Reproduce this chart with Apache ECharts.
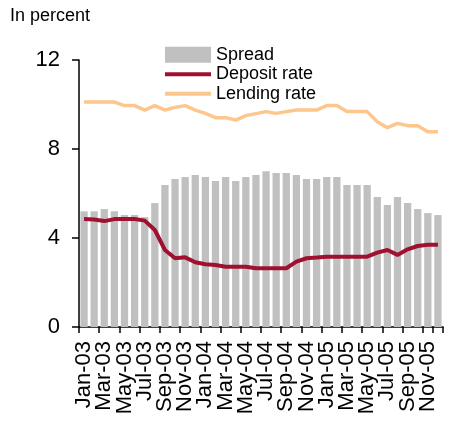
<!DOCTYPE html>
<html>
<head>
<meta charset="utf-8">
<script src="https://cdn.jsdelivr.net/npm/echarts@6/dist/echarts.min.js"></script>
<style>html,body{margin:0;padding:0;background:#fff;}#c{width:459px;height:428px;}</style>
</head>
<body>
<div id="c"></div>
<script>
var months = ['Jan-03','Feb-03','Mar-03','Apr-03','May-03','Jun-03','Jul-03','Aug-03','Sep-03','Oct-03','Nov-03','Dec-03',
  'Jan-04','Feb-04','Mar-04','Apr-04','May-04','Jun-04','Jul-04','Aug-04','Sep-04','Oct-04','Nov-04','Dec-04',
  'Jan-05','Feb-05','Mar-05','Apr-05','May-05','Jun-05','Jul-05','Aug-05','Sep-05','Oct-05','Nov-05','Dec-05'];
var spread = [5.2,5.2,5.3,5.2,5.03,5.03,4.94,5.57,6.38,6.65,6.74,6.83,
  6.74,6.56,6.74,6.56,6.74,6.83,7.0,6.92,6.92,6.83,6.65,6.65,
  6.74,6.74,6.38,6.38,6.38,5.84,5.48,5.84,5.57,5.3,5.12,5.03];
var depositRate = [4.85,4.83,4.76,4.85,4.85,4.85,4.78,4.36,3.46,3.09,3.13,2.91,
  2.82,2.79,2.71,2.71,2.71,2.64,2.64,2.64,2.64,2.94,3.09,3.12,
  3.16,3.16,3.16,3.16,3.16,3.34,3.46,3.24,3.49,3.64,3.70,3.70];
var lendingRate = [10.11,10.11,10.11,10.11,9.95,9.95,9.75,9.95,9.75,9.87,9.95,9.75,
  9.6,9.41,9.41,9.3,9.5,9.59,9.68,9.6,9.68,9.75,9.75,9.75,
  9.95,9.95,9.68,9.68,9.68,9.23,8.96,9.15,9.05,9.05,8.78,8.78];
var yTicks = {min: 0, max: 12, interval: 4};

var font = 'Liberation Sans, Arial, sans-serif';
var chart = echarts.init(document.getElementById('c'), null, {renderer: 'canvas'});
chart.setOption({
  animation: false,
  backgroundColor: '#fff',
  title: {
    text: 'In percent', left: 10, top: 7, padding: 0,
    textStyle: {fontFamily: font, fontSize: 18, fontWeight: 'normal', color: '#000'}
  },
  legend: {
    orient: 'vertical', left: 163, top: 45, padding: 0,
    itemWidth: 46, itemHeight: 16, itemGap: 0,
    textStyle: {fontFamily: font, fontSize: 18, color: '#000', lineHeight: 19.5},
    data: [
      {name: 'Spread', icon: 'rect'},
      {name: 'Deposit rate', itemStyle: {opacity: 0}, lineStyle: {width: 4}},
      {name: 'Lending rate', itemStyle: {opacity: 0}, lineStyle: {width: 4}}
    ]
  },
  grid: {left: 79, top: 60, right: 16, bottom: 101, containLabel: false},
  xAxis: {
    type: 'category', data: months, boundaryGap: true,
    axisLine: {lineStyle: {color: '#000', width: 1.5}},
    axisTick: {show: true, interval: 1, length: 6, lineStyle: {color: '#000', width: 1.5}},
    axisLabel: {
      interval: 0, hideOverlap: false,
      showMinLabel: true, showMaxLabel: false,
      formatter: function (v, i) { return i % 2 === 0 ? v : ''; },
      rotate: 90, margin: 14, color: '#000', fontFamily: font, fontSize: 22
    }
  },
  yAxis: {
    type: 'value', min: yTicks.min, max: yTicks.max, interval: yTicks.interval,
    splitLine: {show: false},
    axisLine: {show: true, lineStyle: {color: '#000', width: 1.5}},
    axisTick: {show: true, length: 7, lineStyle: {color: '#000', width: 1.5}},
    axisLabel: {margin: 19, color: '#000', fontFamily: font, fontSize: 22}
  },
  series: [
    {name: 'Spread', type: 'bar', data: spread, barCategoryGap: '28%',
     itemStyle: {color: '#c0c0c0'}},
    {name: 'Deposit rate', type: 'line', data: depositRate, symbol: 'none',
     lineStyle: {color: '#a0102f', width: 4}, itemStyle: {color: '#a0102f'}},
    {name: 'Lending rate', type: 'line', data: lendingRate, symbol: 'none',
     lineStyle: {color: '#fdc68c', width: 3.5}, itemStyle: {color: '#fdc68c'}}
  ]
});
</script>
</body>
</html>
